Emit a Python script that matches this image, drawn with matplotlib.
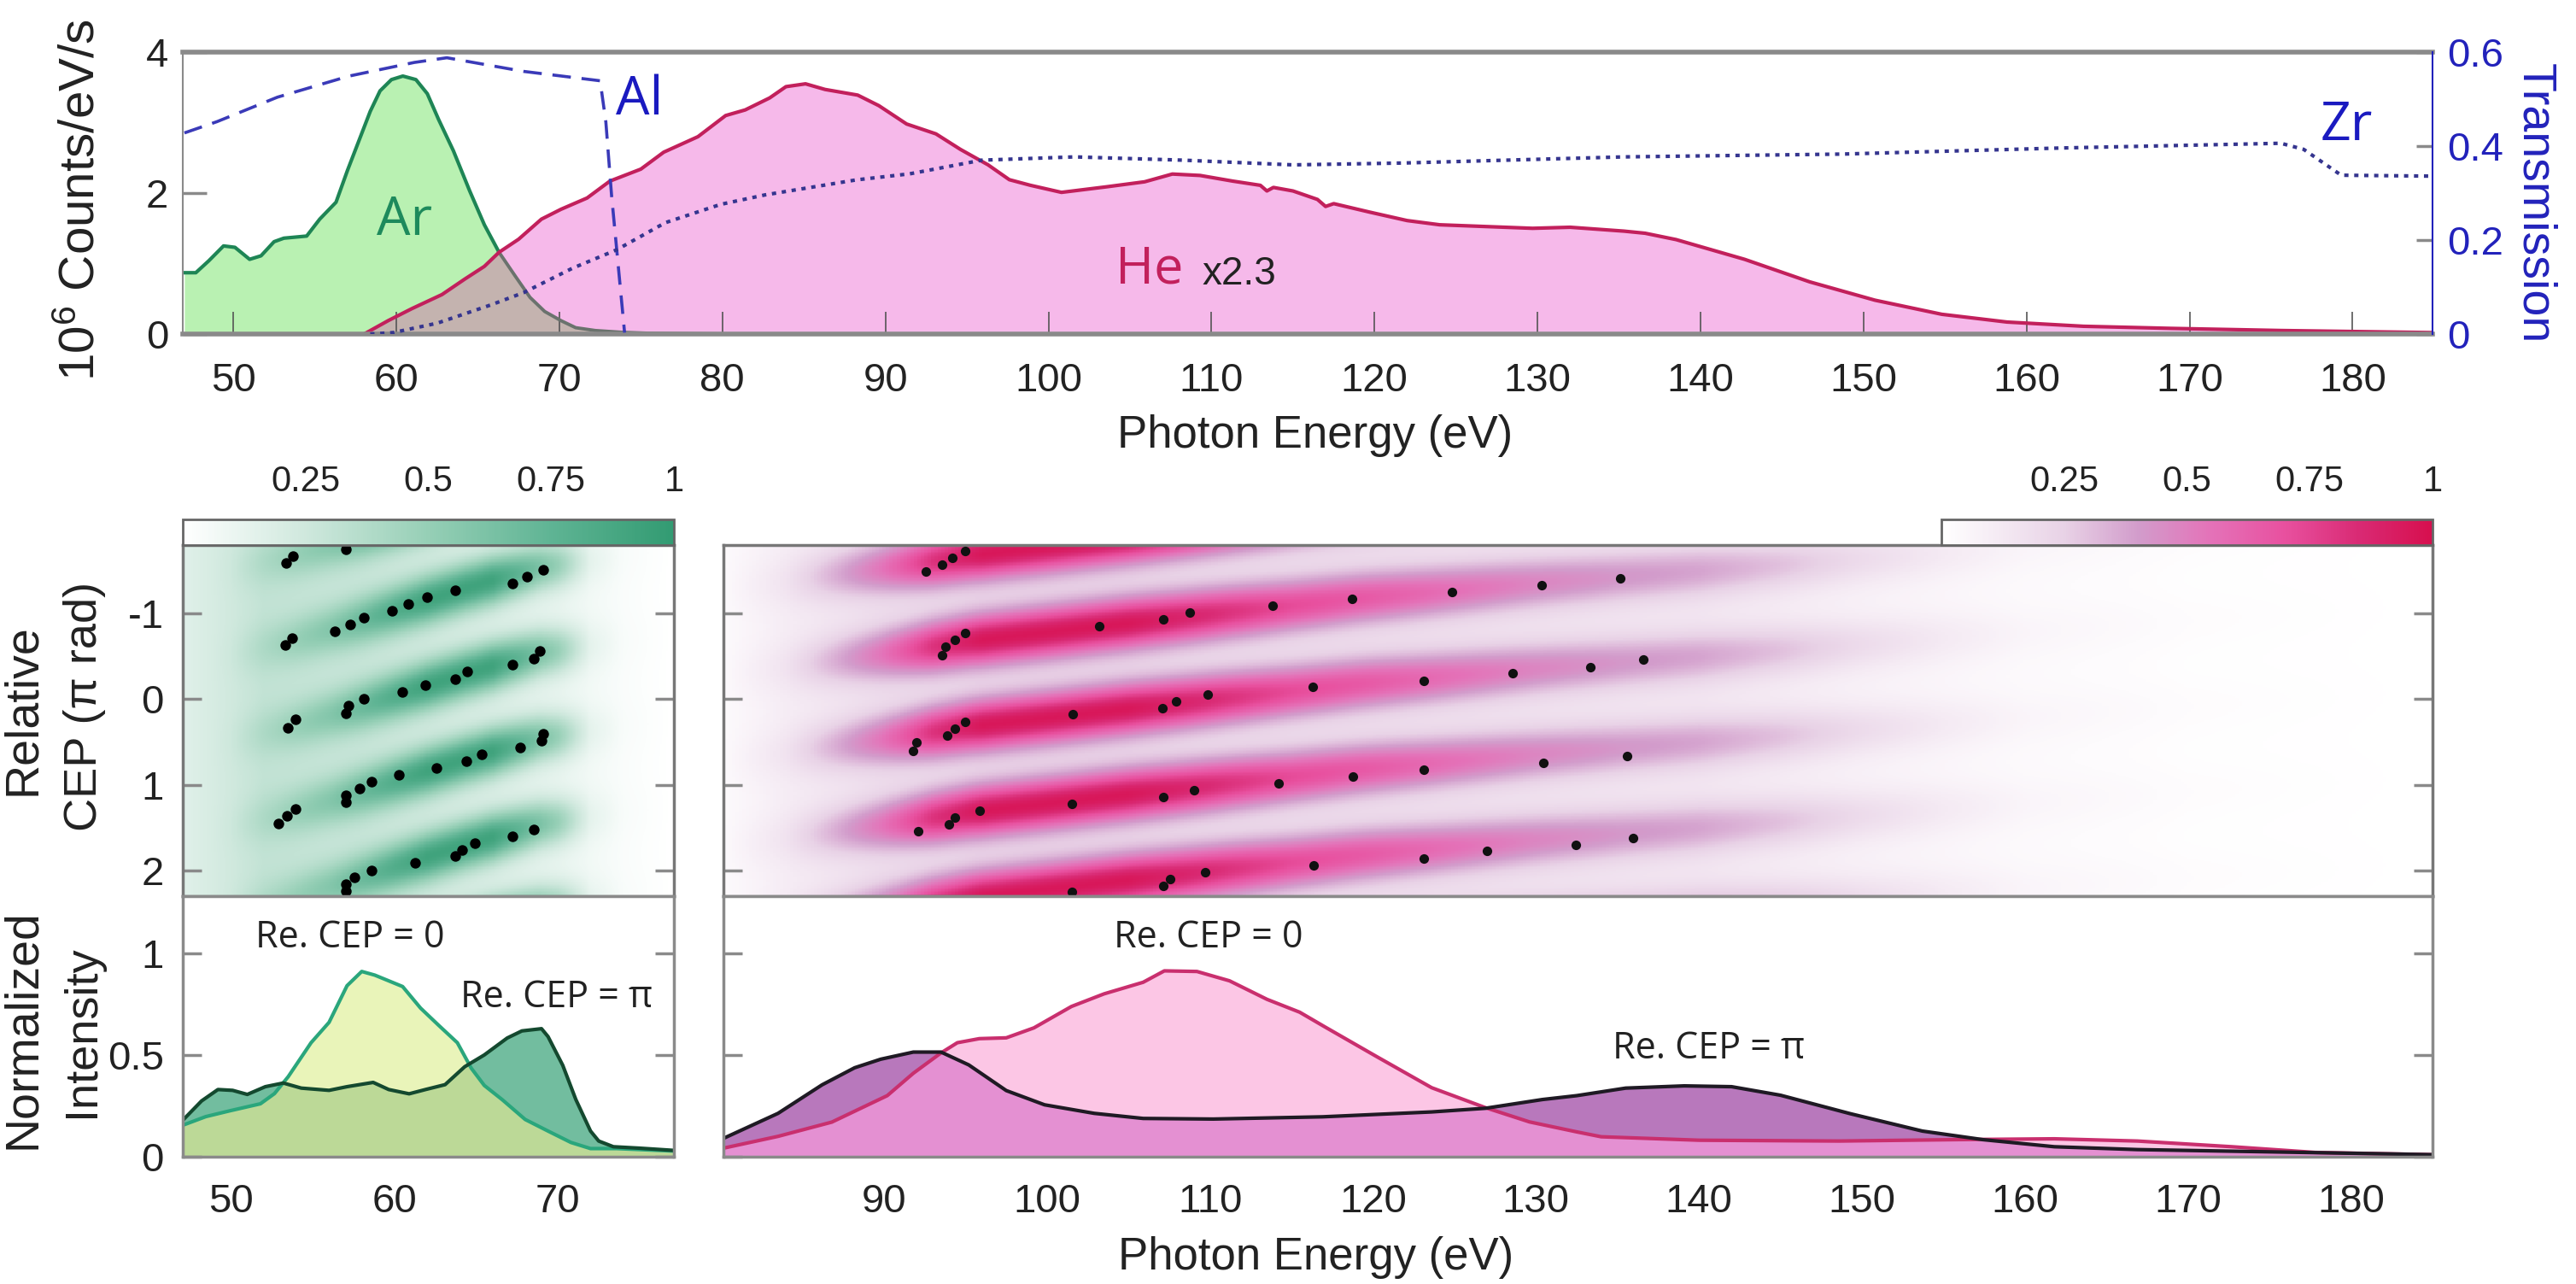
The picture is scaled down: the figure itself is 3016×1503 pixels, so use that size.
import numpy as np
import matplotlib
matplotlib.use('Agg')
import matplotlib.pyplot as plt
from matplotlib.colors import LinearSegmentedColormap, Normalize
from matplotlib.cm import ScalarMappable

plt.rcParams['font.family'] = ['Liberation Sans', 'DejaVu Sans']
plt.rcParams['mathtext.default'] = 'regular'
plt.rcParams['axes.unicode_minus'] = False

W, H = 3016, 1503

# top panel spectra
ar_x = [47, 47.7, 48.5, 49.4, 50.1, 51, 51.7, 52.5, 53.1, 54.5, 55.3, 56.3, 57, 57.8, 58.4, 59, 59.7, 60.4, 61.2, 61.9,
        62.6, 63.5, 64.5, 65.4, 66.3, 67.3, 68.2, 69.1, 70.1, 71, 72.2, 73.8, 75.4, 80, 185]
ar_y = [0.87, 0.87, 1.04, 1.25, 1.23, 1.06, 1.11, 1.31, 1.36, 1.39, 1.63, 1.87, 2.32, 2.8, 3.16, 3.45, 3.61, 3.66, 3.61,
        3.41, 3.04, 2.6, 2.03, 1.55, 1.16, 0.82, 0.52, 0.32, 0.19, 0.09, 0.05, 0.025, 0.012, 0, 0]
he_x = [58.1, 59.5, 60.95, 62.8, 64.2, 65.4, 66.3, 67.5, 68.9, 70.1, 71.7, 73.1, 75, 76.4, 78.5, 80.2, 81.4, 82.9,
        83.9, 85.1, 86.3, 88.3, 89.6, 91.3, 93.1, 94.6, 96.3, 97.6, 98.9, 100.8, 103.6, 105.9, 107.6, 109.3, 111.3,
        113, 113.4, 113.8, 115, 116.5, 117, 117.5, 119.7, 122, 124, 129.7, 132, 135.3, 136.6, 138.5, 140, 142.7,
        146.7, 150.7, 154.8, 158.8, 163.5, 168.9, 175.6, 185]
he_y = [0.01, 0.19, 0.36, 0.56, 0.78, 0.96, 1.16, 1.345, 1.63, 1.77, 1.93, 2.17, 2.34, 2.58, 2.8, 3.1, 3.18, 3.35,
        3.51, 3.55, 3.47, 3.39, 3.24, 2.98, 2.84, 2.62, 2.4, 2.19, 2.11, 2.01, 2.09, 2.16, 2.27, 2.25, 2.17,
        2.11, 2.03, 2.08, 2.03, 1.91, 1.81, 1.85, 1.73, 1.61, 1.55, 1.5, 1.515, 1.46, 1.43, 1.34, 1.24, 1.06,
        0.74, 0.48, 0.28, 0.17, 0.11, 0.08, 0.05, 0.02]
al_x = [47, 49, 52.7, 57.1, 61.1, 63.1, 67.8, 72.5, 72.85, 73.2, 74]
al_t = [0.428, 0.452, 0.504, 0.549, 0.578, 0.588, 0.559, 0.539, 0.452, 0.296, 0.003]
zr_x = [58.4, 59.8, 62.5, 65.8, 67.8, 70.8, 73.5, 76.5, 79.9, 82.6, 88.2, 91.5, 95.9, 101.6, 108.3, 115, 121.8,
        135.3, 148.7, 162.2, 175.6, 177, 179.3, 185]
zr_t = [0, 0.003, 0.023, 0.062, 0.088, 0.14, 0.179, 0.237, 0.276, 0.296, 0.328, 0.341, 0.37, 0.377, 0.37, 0.36, 0.364,
        0.377, 0.383, 0.396, 0.406, 0.393, 0.338, 0.336]

# bottom left spectra (Ar)
ar0_x = [47.06, 48.46, 49.9, 51.8, 52.66, 53.5, 54.9, 56, 57.1, 58, 58.8, 59.65, 60.5, 61.6, 62.7, 63.85, 64.7, 65.5,
         66.6, 68, 69.4, 70.8, 72, 73.6, 77.1]
ar0_y = [0.155, 0.197, 0.225, 0.26, 0.31, 0.393, 0.56, 0.66, 0.84, 0.91, 0.892, 0.864, 0.836, 0.73, 0.646, 0.56, 0.435,
         0.35, 0.28, 0.183, 0.126, 0.07, 0.04, 0.04, 0.028]
arpi_x = [47.06, 48.2, 49.2, 50.1, 51, 52.1, 53.2, 54.3, 56, 57.1, 58.7, 59.65, 60.9, 61.9, 63.1, 64.3, 65.5, 66.9,
          67.8, 69, 69.4, 70.3, 71.1, 72, 72.5, 73.4, 75, 77.1]
arpi_y = [0.18, 0.274, 0.33, 0.326, 0.306, 0.344, 0.362, 0.337, 0.326, 0.344, 0.365, 0.33, 0.309, 0.33, 0.354, 0.442,
          0.5, 0.583, 0.618, 0.629, 0.59, 0.449, 0.281, 0.126, 0.077, 0.049, 0.042, 0.031]

# bottom right spectra (He)
he0_x = [80.15, 83.5, 86.8, 90.2, 91.8, 93.5, 94.5, 95.85, 97.5, 99.2, 101.5, 103.5, 105.9, 107.2, 109.2, 111.2, 113.5,
         115.5, 117, 120.2, 123.6, 126.9, 129.6, 132.5, 134, 140, 148.6, 155.9, 161.8, 166.9, 172.7, 177.8, 185]
he0_y = [0.042, 0.1, 0.17, 0.3, 0.41, 0.51, 0.56, 0.58, 0.584, 0.633, 0.738, 0.8, 0.857, 0.913, 0.91, 0.864, 0.773,
         0.71, 0.64, 0.493, 0.339, 0.241, 0.171, 0.122, 0.098, 0.081, 0.077, 0.084, 0.088, 0.077, 0.049, 0.021, 0.01]
hepi_x = [80.15, 83.5, 86.2, 88.2, 89.8, 91.8, 93.5, 95.2, 97.5, 99.85, 102.9, 105.9, 110.2, 116.9, 123.6, 126.9, 130.4,
          132.5, 135.5, 139.1, 142, 145, 149.3, 153.7, 157.4, 161.8, 166.9, 174.2, 185]
hepi_y = [0.09, 0.213, 0.353, 0.437, 0.479, 0.514, 0.514, 0.451, 0.325, 0.255, 0.213, 0.188, 0.185, 0.196, 0.22, 0.238,
          0.281, 0.3, 0.337, 0.348, 0.344, 0.302, 0.211, 0.126, 0.084, 0.049, 0.035, 0.025, 0.01]

# black dots on the CEP maps
ar_dot_x = [53.36, 53.78, 57.05,
            53.33, 53.72, 56.35, 57.27, 58.11, 59.85, 60.85, 62.0, 63.73, 67.23, 68.13, 69.08,
            53.5, 53.97, 57.05, 57.19, 58.11, 60.49, 61.89, 63.73, 64.43, 67.23, 68.55, 68.88,
            52.88, 53.44, 53.97, 57.05, 57.05, 57.89, 58.59, 60.27, 62.56, 64.38, 65.36, 67.71, 68.99, 69.08,
            57.05, 57.05, 57.55, 58.62, 61.27, 63.73, 64.13, 64.91, 67.23, 68.52]
ar_dot_y = [-1.59, -1.67, -1.75,
            -0.63, -0.715, -0.79, -0.87, -0.955, -1.03, -1.115, -1.19, -1.27, -1.35, -1.43, -1.51,
            0.33, 0.24, 0.17, 0.08, 0, -0.08, -0.16, -0.23, -0.32, -0.40, -0.475, -0.56,
            1.45, 1.36, 1.28, 1.20, 1.12, 1.04, 0.96, 0.88, 0.80, 0.72, 0.64, 0.56, 0.48, 0.40,
            2.245, 2.16, 2.08, 2.0, 1.91, 1.835, 1.76, 1.68, 1.60, 1.52]
he_dot_x = [92.57, 93.57, 94.17, 94.97,
            93.57, 93.77, 94.37, 94.97, 103.19, 107.15, 108.76, 113.84, 118.73, 124.87, 130.35, 135.16,
            91.77, 91.97, 93.89, 94.37, 94.97, 101.58, 107.07, 107.91, 109.84, 116.33, 123.1, 128.55, 133.35, 136.6,
            92.09, 93.97, 94.37, 95.85, 101.54, 107.11, 109.03, 114.2, 118.77, 123.1, 130.47, 135.6,
            101.54, 107.11, 107.55, 109.68, 116.37, 123.1, 126.99, 132.44, 135.93]
he_dot_y = [-1.49, -1.57, -1.65, -1.73,
            -0.515, -0.615, -0.69, -0.77, -0.855, -0.93, -1.014, -1.09, -1.174, -1.254, -1.33, -1.413,
            0.6, 0.5, 0.425, 0.34, 0.26, 0.18, 0.106, 0.027, -0.057, -0.14, -0.216, -0.3, -0.376, -0.46,
            1.54, 1.46, 1.38, 1.30, 1.22, 1.14, 1.06, 0.98, 0.905, 0.82, 0.74, 0.665,
            2.255, 2.18, 2.10, 2.02, 1.94, 1.86, 1.776, 1.70, 1.62]

# CEP map read-offs: ridge line, ridge height and valley level against energy
ar_e = [47, 50, 53.5, 57, 60.5, 64.4, 68.9, 72, 77]
ar_ridge = [0.58, 0.48, 0.33, 0.14, -0.07, -0.30, -0.54, -0.62, -0.75]
ar_amp_e = [47, 50, 52, 54, 56, 58, 60, 62, 66, 68, 70, 71, 72, 74, 77]
ar_amp = [0.14, 0.26, 0.4, 0.5, 0.58, 0.7, 0.82, 0.92, 0.92, 0.72, 0.5, 0.32, 0.14, 0.04, 0]
ar_floor_e = [47, 52, 58, 64, 70, 74, 77]
ar_floor = [0.16, 0.3, 0.26, 0.18, 0.1, 0.03, 0]

he_e = [80, 90, 95.3, 103.3, 111, 119.3, 131, 139, 150, 165, 185]
he_ridge = [0.72, 0.47, 0.32, 0.15, -0.01, -0.18, -0.37, -0.48, -0.64, -0.85, -1.1]
he_amp_e = [80, 84, 87, 90, 93, 96, 105, 110, 115, 120, 125, 130, 135, 140, 145, 150, 155, 160, 170, 185]
he_amp = [0.03, 0.16, 0.35, 0.55, 0.82, 0.95, 0.95, 0.85, 0.72, 0.65, 0.56, 0.48, 0.42, 0.38, 0.3, 0.2, 0.12, 0.06, 0.02, 0]
he_floor_e = [80, 84, 90, 100, 120, 140, 150, 160, 170, 185]
he_floor = [0.03, 0.1, 0.16, 0.17, 0.15, 0.12, 0.07, 0.03, 0.01, 0]

ridge_rows = [-2, -1, 0, 1, 2, 3]
cb_ticks = [0.25, 0.5, 0.75, 1]

green_cm = LinearSegmentedColormap.from_list('g', ['#ffffff', '#cfe8dd', '#96cfb6', '#5fb494', '#329b72'])
pink_cm = LinearSegmentedColormap.from_list('p', [(0, '#ffffff'), (0.25, '#e8d2e6'), (0.4, '#d29ccb'),
                                                  (0.55, '#e472b8'), (0.7, '#e8509f'), (0.85, '#d92a74'),
                                                  (1, '#d70f4e')])
BLUE = '#2222bb'
GREY = '#8a8a8a'
DARK = '#222222'


def box(x0, y0, x1, y1):
    return [x0 / W, 1 - y1 / H, (x1 - x0) / W, (y1 - y0) / H]


def put(x, y, s, **kw):
    fig.text(x / W, 1 - y / H, s, ha='center', va='center', **kw)


def cep_map(ax, e, ridge, amp_e, amp, floor_e, floor, xlim, ylim, cmap, width):
    xx = np.linspace(xlim[0], xlim[1], 500)
    yy = np.linspace(ylim[0], ylim[1], 300)
    c = np.interp(xx, e, ridge)
    a = np.interp(xx, amp_e, amp)
    f = np.interp(xx, floor_e, floor)
    img = np.zeros((len(yy), len(xx)))
    for k in ridge_rows:
        img += np.exp(-((yy[:, None] - (c + k)) / width) ** 2)
    img = f + np.maximum(a - f, 0) * img
    ax.pcolormesh(xx, yy, img, cmap=cmap, vmin=0, vmax=1, shading='auto', rasterized=True)
    ax.set_xlim(xlim)
    ax.set_ylim(ylim[1], ylim[0])


def frame(ax, col=GREY, lw=2.5):
    for s in ax.spines.values():
        s.set_color(col)
        s.set_linewidth(lw)
    ax.tick_params(labelsize=34, color=GREY, width=2.5, labelcolor=DARK)


def colorbar(pos, cmap):
    cax = fig.add_axes(box(*pos))
    cb = fig.colorbar(ScalarMappable(Normalize(0, 1), cmap), cax=cax, orientation='horizontal')
    cb.set_ticks(cb_ticks)
    cb.set_ticklabels(['0.25', '0.5', '0.75', '1'])
    cax.xaxis.set_ticks_position('top')
    cax.tick_params(labelsize=30, length=0, pad=17, labelcolor=DARK)
    cb.outline.set_edgecolor('#666666')
    cb.outline.set_linewidth(2)


fig = plt.figure(figsize=(W / 100, H / 100), dpi=100)

# top panel
ax = fig.add_axes(box(214, 61, 2848, 391))
grid = np.linspace(47, 185, 2000)
ar_i = np.interp(grid, ar_x, ar_y)
he_i = np.interp(grid, he_x, he_y, left=0)
split = ar_x.index(66.3)
ax.fill_between(ar_x, ar_y, color='#b9f1b2', lw=0)
ax.fill_between(he_x, he_y, color='#f6b9ea', lw=0)
ax.fill_between(grid, np.minimum(ar_i, he_i), color='#c4b3af', lw=0)
ax.plot(ar_x[:split + 1], ar_y[:split + 1], color='#1e8555', lw=3)
ax.plot(ar_x[split:-1], ar_y[split:-1], color='#6a726d', lw=2.8)
ax.plot(he_x, he_y, color='#c2205c', lw=3)
ax.set_xlim(46.9, 184.9)
ax.set_ylim(0, 4)
ax.set_xticks(range(50, 181, 10))
ax.set_yticks([0, 2, 4])
frame(ax)
ax.spines['top'].set_linewidth(4)
ax.spines['bottom'].set_linewidth(4)
ax.spines['left'].set_linewidth(1.5)
ax.spines['right'].set_visible(False)
ax.tick_params(axis='y', direction='in', length=20, pad=12)
ax.tick_params(axis='x', direction='in', length=19, width=1.2, color='#555555', pad=24)
ax.set_zorder(1)

ax2 = ax.twinx()
ax2.plot(al_x, al_t, color='#3a3ab8', lw=2.6, ls=(0, (6, 3.5)))
ax2.plot(zr_x, zr_t, color='#35358f', lw=3, ls=(0, (1.2, 1.6)))
ax2.set_ylim(0, 0.6)
ax2.set_yticks([0, 0.2, 0.4, 0.6])
ax2.set_yticklabels(['0', '0.2', '0.4', '0.6'])
for s in ax2.spines.values():
    s.set_visible(False)
ax2.spines['right'].set_visible(True)
ax2.spines['right'].set_color(BLUE)
ax2.spines['right'].set_linewidth(1.5)
ax2.tick_params(axis='y', direction='in', length=14, width=2.5, color=GREY, labelcolor=BLUE, labelsize=34, pad=12)

ax.text(60.5, 1.6, 'Ar', color='#1e8a5c', fontsize=45, family='Open Sans', ha='center', va='center')
ax.text(74.9, 3.31, 'Al', color='#1a1ac0', fontsize=45, family='Open Sans', ha='center', va='center')
ax.text(179.6, 2.95, 'Zr', color='#1a1ac0', fontsize=45, family='Open Sans', ha='center', va='center')
ax.text(106.2, 0.92, 'He', color='#c2205c', fontsize=44, family='Open Sans', ha='center', va='center')
ax.text(111.7, 0.85, 'x2.3', color=DARK, fontsize=33, ha='center', va='center')

# CEP maps
ax3 = fig.add_axes(box(214, 638, 789, 1049))
cep_map(ax3, ar_e, ar_ridge, ar_amp_e, ar_amp, ar_floor_e, ar_floor, (47.05, 77.1), (-1.8, 2.3), green_cm, 0.28)
ax3.scatter(ar_dot_x, ar_dot_y, s=80, color='black', lw=0, zorder=3)
ax3.set_xticks([])
ax3.set_yticks([-1, 0, 1, 2])
frame(ax3, '#777777')
ax3.tick_params(axis='y', direction='in', length=16, left=True, right=True, pad=16)

ax4 = fig.add_axes(box(847, 638, 2848, 1049))
cep_map(ax4, he_e, he_ridge, he_amp_e, he_amp, he_floor_e, he_floor, (80.15, 185), (-1.8, 2.3), pink_cm, 0.3)
ax4.scatter(he_dot_x, he_dot_y, s=65, color='#111111', lw=0, zorder=3)
ax4.set_xticks([])
ax4.set_yticks([-1, 0, 1, 2])
ax4.set_yticklabels([])
frame(ax4, '#777777')
ax4.tick_params(axis='y', direction='in', length=16, left=True, right=True)

colorbar((214, 608, 789, 638), green_cm)
colorbar((2273, 608, 2848, 638), pink_cm)

# normalized spectra
ax5 = fig.add_axes(box(214, 1049, 789, 1354))
g = np.linspace(47.06, 77.1, 1500)
a0 = np.interp(g, ar0_x, ar0_y)
ap = np.interp(g, arpi_x, arpi_y)
ax5.fill_between(arpi_x, arpi_y, color='#72bd9f', lw=0)
ax5.fill_between(ar0_x, ar0_y, color='#e9f4b9', lw=0)
ax5.fill_between(g, np.minimum(a0, ap), color='#bcd997', lw=0)
ax5.plot(ar0_x, ar0_y, color='#2aa67c', lw=3)
ax5.plot(arpi_x, arpi_y, color='#14492f', lw=3)
ax5.set_xlim(47.05, 77.1)
ax5.set_ylim(0, 1.28)
ax5.set_xticks([50, 60, 70])
ax5.set_yticks([0, 0.5, 1])
ax5.set_yticklabels(['0', '0.5', '1'])
frame(ax5)
ax5.tick_params(axis='y', direction='in', length=16, left=True, right=True, pad=16)
ax5.tick_params(axis='x', length=0, pad=22)
ax5.text(57.3, 1.075, 'Re. CEP = 0', fontsize=31, family='Open Sans', color=DARK, ha='center', va='center')
ax5.text(69.9, 0.78, 'Re. CEP = π', fontsize=31, family='Open Sans', color=DARK, ha='center', va='center')

ax6 = fig.add_axes(box(847, 1049, 2848, 1354))
g = np.linspace(80.2, 185, 2500)
h0 = np.interp(g, he0_x, he0_y)
hp = np.interp(g, hepi_x, hepi_y)
ax6.fill_between(hepi_x, hepi_y, color='#b878bc', lw=0)
ax6.fill_between(he0_x, he0_y, color='#fcc6e5', lw=0)
ax6.fill_between(g, np.minimum(h0, hp), color='#e490d2', lw=0)
ax6.plot(he0_x, he0_y, color='#c92f6e', lw=3)
ax6.plot(hepi_x, hepi_y, color='#1f1a24', lw=3)
ax6.set_xlim(80.15, 185)
ax6.set_ylim(0, 1.28)
ax6.set_xticks(range(90, 181, 10))
ax6.set_yticks([0, 0.5, 1])
ax6.set_yticklabels([])
frame(ax6)
ax6.tick_params(axis='y', direction='in', length=16, left=True, right=True)
ax6.tick_params(axis='x', length=0, pad=22)
ax6.text(109.9, 1.075, 'Re. CEP = 0', fontsize=31, family='Open Sans', color=DARK, ha='center', va='center')
ax6.text(140.6, 0.53, 'Re. CEP = π', fontsize=31, family='Open Sans', color=DARK, ha='center', va='center')

# labels
put(96, 234, '10$^{6}$ Counts/eV/s', fontsize=42, rotation=90, color=DARK)
put(2967, 238, 'Transmission', fontsize=40, rotation=270, color=BLUE)
put(1540, 510, 'Photon Energy (eV)', fontsize=38, color=DARK)
put(1541, 1472, 'Photon Energy (eV)', fontsize=38, color=DARK)
put(27, 831, 'Relative', fontsize=40, rotation=90, color=DARK)
put(99, 827, 'CEP (π rad)', fontsize=39, rotation=90, color=DARK)
put(27, 1205, 'Normalized', fontsize=40, rotation=90, color=DARK)
put(96, 1207, 'Intensity', fontsize=39, rotation=90, color=DARK)

fig.savefig('out.png', dpi=100)
